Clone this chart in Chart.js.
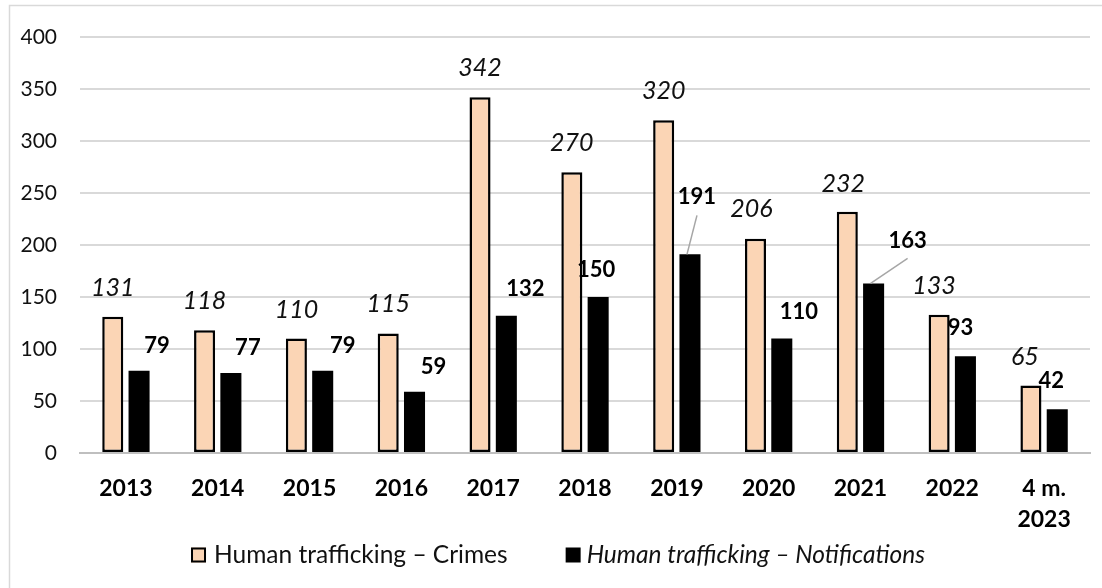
<!DOCTYPE html>
<html>
<head>
<meta charset="utf-8">
<script src="https://cdn.jsdelivr.net/npm/chart.js@4.4.0/dist/chart.umd.min.js"></script>
<style>
  html, body { margin: 0; padding: 0; background: #fff; }
  #wrap { position: relative; width: 1102px; height: 588px; }
</style>
</head>
<body>
<div id="wrap"><canvas id="chart"></canvas></div>
<script>
const years = ["2013", "2014", "2015", "2016", "2017", "2018", "2019", "2020", "2021", "2022", ["4 m.", "2023"]];
const crimes = [131, 118, 110, 115, 342, 270, 320, 206, 232, 133, 65];
const notifications = [79, 77, 79, 59, 132, 150, 191, 110, 163, 93, 42];
const yTicks = [0, 50, 100, 150, 200, 250, 300, 350, 400];

const FONT = "Lato, 'Open Sans', sans-serif";

// where the value labels sit, relative to the top centre of each bar [dx, dy]
const crimeLabelShift = [[0,29],[0,29],[0,29],[0,29],[0,29],[0,29],[0,29],[-4,30],[-4,28],[-5,29],[-6,28]];
const notifLabelShift = [[18,25],[17,25],[20,25],[19,25],[19,27],[-2,27],[7,57],[17,27],[34,43],[-5,28],[-6,28]];
const leaderLines = { 6: true, 8: true };

const valueLabels = {
    id: "valueLabels",
    afterDatasetsDraw(chart) {
        const ctx = chart.ctx;
        ctx.save();
        ctx.textAlign = "center";
        ctx.textBaseline = "middle";

        const m0 = chart.getDatasetMeta(0);
        ctx.font = "italic 25px " + FONT;
        ctx.fillStyle = "#111";
        m0.data.forEach((bar, i) => {
            const s = crimeLabelShift[i];
            ctx.fillText(String(crimes[i]), bar.x + s[0], bar.y - s[1]);
        });

        const m1 = chart.getDatasetMeta(1);
        ctx.font = "bold 22px " + FONT;
        ctx.fillStyle = "#000";
        m1.data.forEach((bar, i) => {
            const s = notifLabelShift[i];
            const lx = bar.x + s[0], ly = bar.y - s[1];
            if (leaderLines[i]) {
                ctx.strokeStyle = "#a6a6a6";
                ctx.lineWidth = 1.5;
                ctx.beginPath();
                ctx.moveTo(lx, ly + 18);
                ctx.lineTo(bar.x - 3, bar.y);
                ctx.stroke();
            }
            ctx.fillText(String(notifications[i]), lx, ly);
        });
        ctx.restore();
    }
};

const frameAndLegend = {
    id: "frameAndLegend",
    beforeDraw(chart) {
        const ctx = chart.ctx;
        ctx.save();
        ctx.strokeStyle = "#d9d9d9";
        ctx.lineWidth = 1.5;
        ctx.strokeRect(9.5, 5.5, chart.width + 20, chart.height + 20);
        ctx.restore();
    },
    afterDraw(chart) {
        const ctx = chart.ctx;
        const items = [
            { text: "Human trafficking \u2013 Crimes", font: "24.5px " + FONT, fill: "#fbd5b5", border: true, gap: 8 },
            { text: "Human trafficking \u2013 Notifications", font: "italic 24.5px " + FONT, fill: "#000", border: false, gap: 6 }
        ];
        const box = 15, spacing = 58, y = 555;
        ctx.save();
        let total = 0;
        items.forEach(it => {
            ctx.font = it.font;
            it.w = ctx.measureText(it.text).width;
            total += box + it.gap + it.w;
        });
        total += spacing;
        let x = 558 - total / 2;
        ctx.textBaseline = "middle";
        ctx.textAlign = "left";
        items.forEach(it => {
            ctx.fillStyle = it.fill;
            ctx.fillRect(x, y - box / 2, box, box);
            if (it.border) {
                ctx.strokeStyle = "#000";
                ctx.lineWidth = 2;
                ctx.strokeRect(x + 1, y - box / 2 + 1, box - 2, box - 2);
            }
            ctx.font = it.font;
            ctx.fillStyle = "#111";
            ctx.fillText(it.text, x + box + it.gap, y);
            x += box + it.gap + it.w + spacing;
        });
        ctx.restore();
    }
};

new Chart(document.getElementById("chart").getContext("2d"), {
    type: "bar",
    data: {
        labels: years,
        datasets: [
            {
                label: "Human trafficking \u2013 Crimes",
                data: crimes,
                backgroundColor: "#fbd5b5",
                borderColor: "#000",
                borderWidth: 2.5,
                borderSkipped: false,
                categoryPercentage: 0.573,
                barPercentage: 0.8
            },
            {
                label: "Human trafficking \u2013 Notifications",
                data: notifications,
                backgroundColor: "#000",
                borderWidth: 0,
                categoryPercentage: 0.573,
                barPercentage: 0.8
            }
        ]
    },
    options: {
        responsive: true,
        maintainAspectRatio: false,
        animation: false,
        layout: { padding: { top: 37, right: 12, left: 0, bottom: 0 } },
        plugins: {
            legend: { display: false },
            tooltip: { enabled: false }
        },
        scales: {
            x: {
                afterFit: s => { s.height = 135; },
                grid: { display: false, drawTicks: false },
                border: { color: "#bfbfbf", width: 2 },
                ticks: {
                    color: "#000",
                    font: { family: FONT, size: 23, weight: "bold", lineHeight: 1.35 },
                    padding: 20,
                    maxRotation: 0,
                    autoSkip: false
                }
            },
            y: {
                min: 0,
                max: 400,
                afterFit: s => { s.width = 80; },
                afterBuildTicks: s => { s.ticks = yTicks.map(v => ({ value: v })); },
                grid: { color: "#d9d9d9", lineWidth: 2, drawTicks: false },
                border: { display: false },
                ticks: {
                    color: "#111",
                    font: { family: FONT, size: 21 },
                    padding: 23
                }
            }
        }
    },
    plugins: [valueLabels, frameAndLegend]
});
</script>
</body>
</html>
